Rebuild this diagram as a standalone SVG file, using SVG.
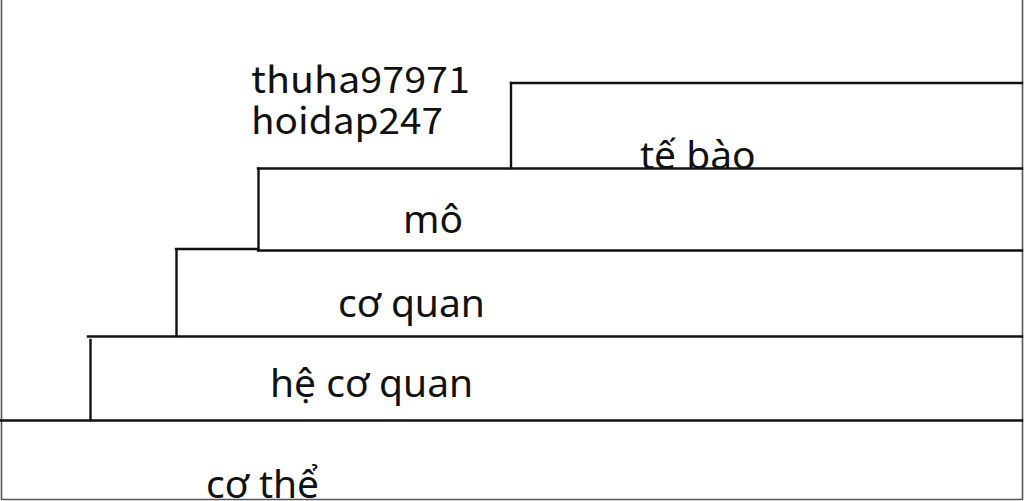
<svg xmlns="http://www.w3.org/2000/svg" width="1024" height="501" viewBox="0 0 1024 501">
<style>
.st{stroke:#111;stroke-width:2.4;fill:none;stroke-linecap:square}
.fr{stroke:#555;stroke-width:1.6;fill:none}
.lb{font-family:"Noto Sans","Open Sans",sans-serif;font-size:39px;fill:#111}
.wm{font-family:"Noto Sans CJK SC","Noto Sans",sans-serif;font-size:36px;fill:#111}
</style>
<rect width="1024" height="501" fill="#fff"/>
<g id="frame">
<path class="fr" d="M1.5,0 V499.5 H1022.5 V0"/>
</g>
<g id="connectors">
<path class="st" d="M511,83 H1022"/>
<path class="st" d="M511,83 V168"/>
<path class="st" d="M258,168.5 H1022"/>
<path class="st" d="M258.5,168.5 V250"/>
<path class="st" d="M176,249 H258"/>
<path class="st" d="M258,250.5 H1022"/>
<path class="st" d="M176.5,250 V336"/>
<path class="st" d="M88,336.5 H1022"/>
<path class="st" d="M90.5,340 V420"/>
<path class="st" d="M1,420.5 H1022"/>
</g>
<g id="watermark">
<text class="wm" x="251" y="93" textLength="219" lengthAdjust="spacingAndGlyphs">thuha97971</text>
<text class="wm" x="251" y="134" textLength="192" lengthAdjust="spacingAndGlyphs">hoidap247</text>
</g>
<g id="node-te-bao"><text class="lb" x="640" y="169">tế bào</text></g>
<g id="node-mo"><text class="lb" x="403" y="233">mô</text></g>
<g id="node-co-quan"><text class="lb" x="338" y="317">cơ quan</text></g>
<g id="node-he-co-quan"><text class="lb" x="270" y="397">hệ cơ quan</text></g>
<g id="node-co-the"><text class="lb" x="206" y="498">cơ thể</text></g>
</svg>
